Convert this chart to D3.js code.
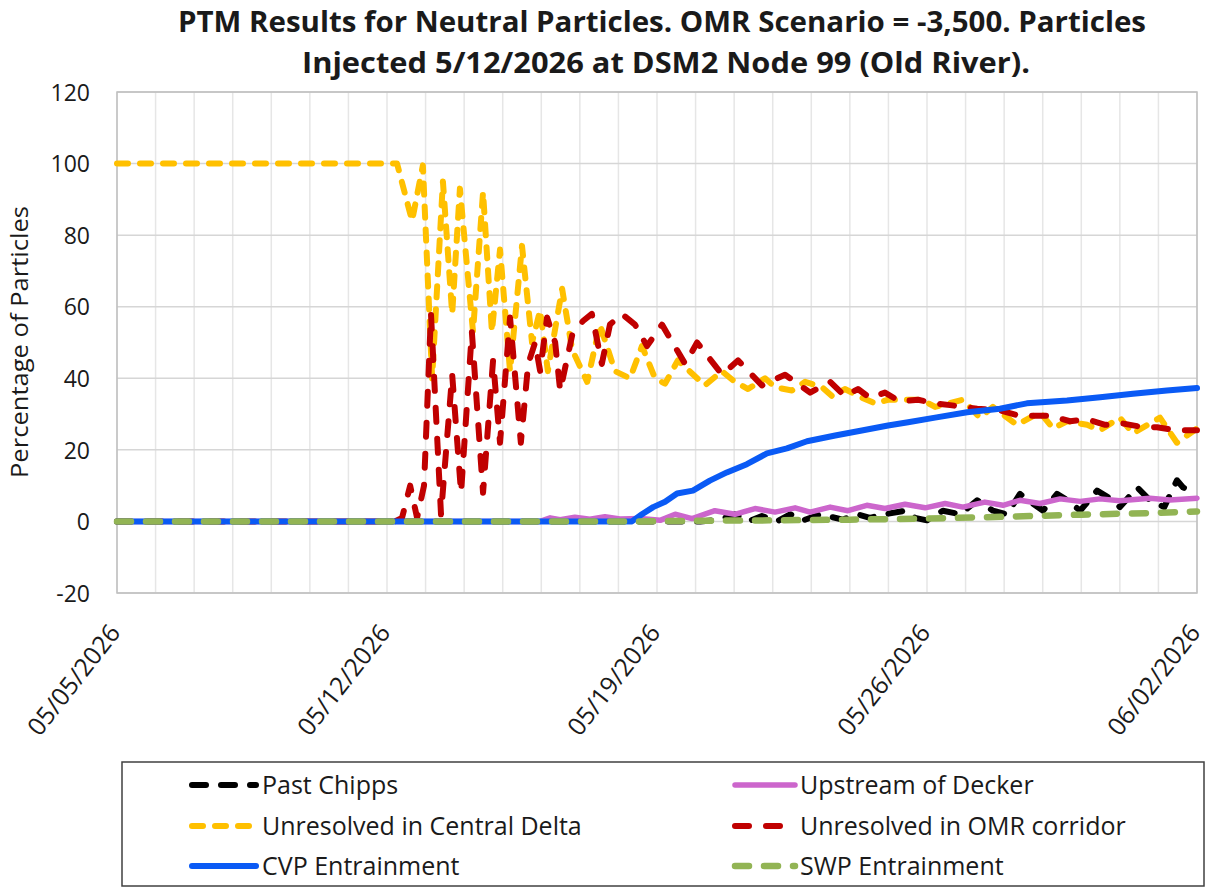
<!DOCTYPE html>
<html>
<head>
<meta charset="utf-8">
<script src="https://cdn.jsdelivr.net/npm/d3@7/dist/d3.min.js"></script>
<style>
  html, body { margin: 0; padding: 0; background: #fff; }
  svg { display: block; }
  text { font-family: "Open Sans", "Noto Sans", sans-serif; fill: #1a1a1a; }
</style>
</head>
<body>
<svg id="chart" width="1207" height="888"></svg>
<script>
// ---- Data: days elapsed since 05/05/2026 00:00 and percentage of particles ----
const tickLabels = ["05/05/2026", "05/12/2026", "05/19/2026", "05/26/2026", "06/02/2026"];
const yTicks = [-20, 0, 20, 40, 60, 80, 100, 120];

const seriesNames = [
  "Past Chipps", "Upstream of Decker", "Unresolved in Central Delta",
  "Unresolved in OMR corridor", "CVP Entrainment", "SWP Entrainment"
];

const chippsDays = [0, 15.12, 15.63, 16.02, 16.36, 16.72, 17.11, 17.45, 17.79, 18.23, 18.82, 19.19, 19.52, 19.91,
  20.43, 20.69, 21.00, 21.41, 21.86, 22.30, 22.71, 23.07, 23.41, 23.74, 24.01, 24.37, 24.63, 24.97, 25.41,
  25.82, 26.00, 26.45, 26.78, 27.15, 27.48, 27.64, 28.00];
const chippsPct = [0, 0, 0.5, 2, 0, 1.5, 0, 2, 0.3, 2, 0.5, 2, 1, 2,
  3, 1, 0.3, 3, 2, 5.9, 3, 2, 7.7, 5, 3, 7.7, 6, 3, 8.6,
  5.9, 4, 9.5, 5.9, 4, 11.5, 9.5, 7.5];

const deckerDays = [0, 10.97, 11.23, 11.49, 11.87, 12.26, 12.65, 13.04, 13.56, 14.08, 14.47, 14.91, 15.50, 16.02,
  16.54, 17.06, 17.58, 17.97, 18.49, 18.95, 19.44, 19.91, 20.43, 20.95, 21.47, 21.93, 22.50, 22.97, 23.41,
  23.93, 24.45, 24.97, 25.49, 26.00, 26.78, 27.30, 28.00];
const deckerPct = [0, 0, 1, 0.5, 1.2, 0.6, 1.3, 0.7, 0.8, 0.3, 2, 0.8, 3, 2,
  3.6, 2.6, 3.8, 2.6, 4, 3, 4.5, 3.6, 4.8, 3.8, 5, 4, 5.4, 4.5, 5.9,
  5, 6.3, 5.6, 6.3, 5.8, 6.5, 6, 6.5];

const centralDays = [0, 7.00, 7.26, 7.65, 7.93, 8.17, 8.45, 8.69, 8.89, 9.23, 9.49, 9.72, 9.93, 10.19, 10.50,
  10.76, 10.97, 11.17, 11.54, 11.80, 12.19, 12.52, 12.91, 13.30, 13.61, 13.95, 14.21, 14.54, 15.24, 15.68,
  16.02, 16.36, 16.80, 17.06, 17.50, 17.84, 18.28, 18.54, 18.87, 19.31, 19.65, 19.99, 20.35, 20.87, 21.21,
  21.93, 22.37, 22.71, 23.33, 23.93, 24.27, 24.63, 25.15, 25.49, 26.00, 26.34, 27.04, 27.48, 28.00];
const centralPct = [100, 100, 100, 84, 99.5, 40, 95, 58, 93, 53, 92, 53, 76, 42, 77,
  50, 59, 42, 65, 48, 39, 55, 42, 40, 49, 40, 38.5, 45, 38, 42,
  39, 37, 40, 37.5, 36.6, 39, 37.5, 35, 37, 34.6, 33, 34, 34, 34, 32,
  34, 29, 32, 27, 30.5, 26, 28, 27, 25.5, 29, 24.6, 29, 22, 26];

const omrDays = [0, 7.21, 7.39, 7.60, 7.78, 7.96, 8.14, 8.40, 8.69, 8.92, 9.20, 9.49, 9.75, 9.93, 10.19, 10.47,
  10.66, 10.84, 10.97, 11.15, 11.36, 11.49, 11.80, 12.08, 12.31, 12.57, 12.78, 13.09, 13.43, 13.74, 14.13,
  14.73, 15.04, 15.69, 16.10, 16.72, 17.32, 17.97, 18.49, 18.87, 19.21, 19.52, 19.91, 20.30, 20.77, 21.21,
  21.60, 22.30, 22.89, 23.41, 24.19, 24.71, 25.15, 25.62, 26.06, 26.52, 26.96, 27.43, 28.00];
const omrPct = [0, 0, 1, 10, 1, 10, 58, 2, 41, 8, 53, 8, 45, 22, 57, 22,
  44, 50, 42, 57, 50, 36.5, 52, 56, 58, 44, 55, 58, 55, 49, 55,
  44, 50, 41, 45, 38, 41, 36, 39, 35, 37, 34.5, 36, 33.5, 34, 33,
  32.5, 31.5, 31, 29.5, 29.5, 28, 28.5, 27, 27.4, 26.5, 26.3, 25.5, 25.5];

const cvpDays = [0, 13.35, 13.61, 13.90, 14.21, 14.52, 14.93, 15.37, 15.81, 16.33, 16.85, 17.37, 17.89, 18.62,
  19.31, 19.99, 20.51, 21.21, 22.04, 22.89, 23.59, 24.63, 25.49, 26.34, 27.22, 28.00];
const cvpPct = [0, 0, 2, 4, 5.5, 7.8, 8.6, 11.4, 13.7, 16, 19, 20.4, 22.4, 24,
  25.4, 26.8, 27.7, 29, 30.5, 31.5, 33, 33.8, 34.7, 35.7, 36.6, 37.3];

const swpDays = [0, 13.5, 15, 17, 19, 21, 23, 25, 27, 28];
const swpPct = [0, 0, 0.2, 0.3, 0.5, 0.8, 1.3, 1.9, 2.4, 2.8];

// ---- Layout ----
const svg = d3.select("#chart");
const plot = { left: 117, right: 1197, top: 92, bottom: 593 };
const parseDate = d3.utcParse("%m/%d/%Y");
const day0 = parseDate(tickLabels[0]);
const toDate = d => new Date(day0.getTime() + d * 864e5);

const x = d3.scaleUtc()
  .domain([parseDate(tickLabels[0]), parseDate(tickLabels[tickLabels.length - 1])])
  .range([plot.left, plot.right]);
const y = d3.scaleLinear().domain([-20, 120]).range([plot.bottom, plot.top]);

// ---- Grid ----
const grid = svg.append("g");
grid.selectAll("line.vday")
  .data(d3.utcDay.range(x.domain()[0], d3.utcDay.offset(x.domain()[1], 1)))
  .join("line")
  .attr("x1", d => x(d)).attr("x2", d => x(d))
  .attr("y1", plot.top).attr("y2", plot.bottom)
  .attr("stroke", "#e6e6e6").attr("stroke-width", 1.5);
grid.selectAll("line.h")
  .data(yTicks)
  .join("line")
  .attr("x1", plot.left).attr("x2", plot.right)
  .attr("y1", d => y(d)).attr("y2", d => y(d))
  .attr("stroke", "#d6d6d6").attr("stroke-width", 1.5);
svg.append("rect")
  .attr("x", plot.left).attr("y", plot.top)
  .attr("width", plot.right - plot.left).attr("height", plot.bottom - plot.top)
  .attr("fill", "none").attr("stroke", "#bfbfbf").attr("stroke-width", 1.5);

// ---- Axes ----
const yAxis = d3.axisLeft(y).tickValues(yTicks).tickFormat(d => String(d)).tickSize(0).tickPadding(0);
const yg = svg.append("g").attr("transform", `translate(${plot.left - 27},0)`).call(yAxis);
yg.select(".domain").remove();
yg.selectAll("text").style("font-size", "23px").style("font-family", "Open Sans, sans-serif")
  .attr("fill", "#1a1a1a").attr("dy", "0.36em");

const xAxis = d3.axisBottom(x).tickValues(tickLabels.map(parseDate))
  .tickFormat(d3.utcFormat("%m/%d/%Y")).tickSize(0);
const xg = svg.append("g").attr("transform", `translate(0,${plot.bottom})`).call(xAxis);
xg.select(".domain").remove();
xg.selectAll("text")
  .style("font-size", "25px").style("font-family", "Open Sans, sans-serif")
  .attr("fill", "#1a1a1a")
  .attr("text-anchor", "end")
  .attr("dy", 0).attr("y", 0)
  .attr("transform", "translate(4,40) rotate(-52)");

// ---- Titles ----
const title = svg.append("g").style("font-weight", "bold");
title.append("text").attr("x", 662).attr("y", 32).attr("text-anchor", "middle")
  .style("font-size", "28px").style("font-weight", "bold")
  .attr("textLength", 968).attr("lengthAdjust", "spacingAndGlyphs")
  .text("PTM Results for Neutral Particles. OMR Scenario = -3,500. Particles");
title.append("text").attr("x", 666).attr("y", 73).attr("text-anchor", "middle")
  .style("font-size", "28px").style("font-weight", "bold")
  .attr("textLength", 728).attr("lengthAdjust", "spacingAndGlyphs")
  .text("Injected 5/12/2026 at DSM2 Node 99 (Old River).");

svg.append("text")
  .attr("transform", "translate(28,342) rotate(-90)")
  .attr("text-anchor", "middle")
  .style("font-size", "23px")
  .attr("textLength", 272).attr("lengthAdjust", "spacingAndGlyphs")
  .text("Percentage of Particles");

// ---- Series ----
const styles = [
  { color: "#000000", width: 6, dash: "14,15" },
  { color: "#cc66cc", width: 5.5, dash: null },
  { color: "#ffc000", width: 6, dash: "11,12" },
  { color: "#c00000", width: 6, dash: "14,17" },
  { color: "#0a5af5", width: 6, dash: null },
  { color: "#92b454", width: 6.5, dash: "14,15" }
];
const seriesData = [
  [chippsDays, chippsPct], [deckerDays, deckerPct], [centralDays, centralPct],
  [omrDays, omrPct], [cvpDays, cvpPct], [swpDays, swpPct]
].map(([days, pct]) => days.map((d, i) => ({ date: toDate(d), value: pct[i] })));

const line = d3.line().x(d => x(d.date)).y(d => y(d.value)).curve(d3.curveLinear);
const lines = svg.append("g");
seriesData.forEach((data, i) => {
  const s = styles[i];
  lines.append("path")
    .datum(data)
    .attr("d", line)
    .attr("fill", "none")
    .attr("stroke", s.color)
    .attr("stroke-width", s.width)
    .attr("stroke-linejoin", "round")
    .attr("stroke-linecap", "round")
    .attr("stroke-dasharray", s.dash);
});

// ---- Legend ----
const legend = svg.append("g");
legend.append("rect")
  .attr("x", 122).attr("y", 762).attr("width", 1082).attr("height", 124)
  .attr("fill", "#fff").attr("stroke", "#404040").attr("stroke-width", 1.5);
const legendCols = [{ x1: 192, x2: 256, tx: 262 }, { x1: 735, x2: 795, tx: 800 }];
const legendRows = [785, 826, 866];
seriesNames.forEach((name, i) => {
  const col = legendCols[i % 2];
  const ry = legendRows[Math.floor(i / 2)];
  const s = styles[i];
  legend.append("line")
    .attr("x1", col.x1).attr("x2", col.x2).attr("y1", ry).attr("y2", ry)
    .attr("stroke", s.color).attr("stroke-width", s.width)
    .attr("stroke-linecap", "round")
    .attr("stroke-dasharray", s.dash);
  legend.append("text")
    .attr("x", col.tx).attr("y", ry).attr("dy", "0.35em")
    .style("font-size", "25px")
    .text(name);
});
</script>
</body>
</html>
